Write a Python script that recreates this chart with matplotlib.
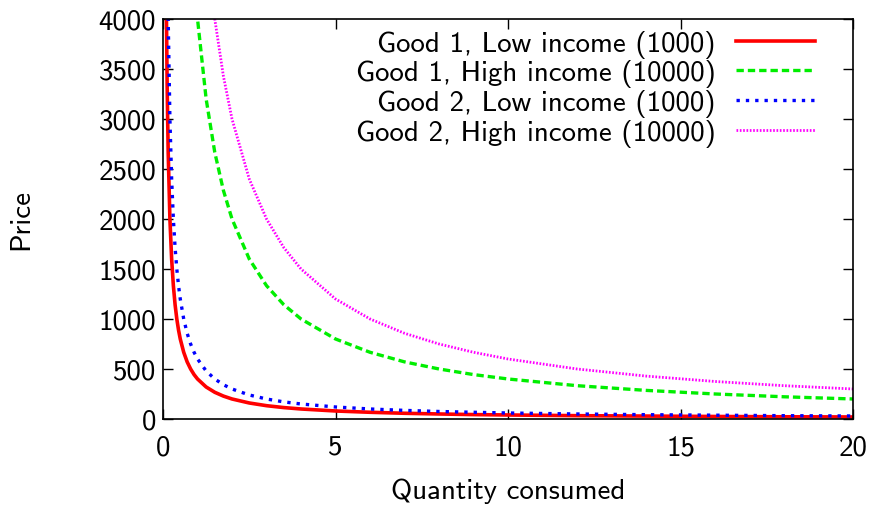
import matplotlib.pyplot as plt

# demand curves read at a set of quantities
quantity = [0.1, 0.12, 0.15, 0.2, 0.25, 0.3, 0.35, 0.4, 0.45, 0.5, 0.6, 0.7, 0.8, 0.9,
            1, 1.25, 1.5, 1.75, 2, 2.5, 3, 3.5, 4, 5, 6, 7, 8, 9, 10, 12, 14, 16, 18, 20]
good1_low = [4000, 3333, 2667, 2000, 1600, 1333, 1143, 1000, 889, 800, 667, 571, 500, 444,
             400, 320, 267, 229, 200, 160, 133, 114, 100, 80, 67, 57, 50, 44, 40, 33, 29, 25, 22, 20]
good1_high = [40000, 33333, 26667, 20000, 16000, 13333, 11429, 10000, 8889, 8000, 6667, 5714, 5000, 4444,
              4000, 3200, 2667, 2286, 2000, 1600, 1333, 1143, 1000, 800, 667, 571, 500, 444, 400, 333, 286, 250, 222, 200]
good2_low = [6000, 5000, 4000, 3000, 2400, 2000, 1714, 1500, 1333, 1200, 1000, 857, 750, 667,
             600, 480, 400, 343, 300, 240, 200, 171, 150, 120, 100, 86, 75, 67, 60, 50, 43, 38, 33, 30]
good2_high = [60000, 50000, 40000, 30000, 24000, 20000, 17143, 15000, 13333, 12000, 10000, 8571, 7500, 6667,
              6000, 4800, 4000, 3429, 3000, 2400, 2000, 1714, 1500, 1200, 1000, 857, 750, 667, 600, 500, 429, 375, 333, 300]

FS = 20.8
plt.rcParams['font.family'] = ['cmss10', 'DejaVu Sans']
plt.rcParams['axes.unicode_minus'] = False
plt.rcParams['font.size'] = FS

fig = plt.figure(figsize=(8.75, 5.06), dpi=100)
ax = fig.add_axes([0.1863, 0.17, 0.7886, 0.7905])

ax.plot(quantity, good1_low, color='#ff0000', lw=2.6, label='Good 1, Low income (1000)')
ax.plot(quantity, good1_high, color='#00ee00', lw=2.4, linestyle=(0, (2.2, 1.2)),
        label='Good 1, High income (10000)')
ax.plot(quantity, good2_low, color='#0000ff', lw=2.4, linestyle=(0, (1, 1.8)),
        label='Good 2, Low income (1000)')
ax.plot(quantity, good2_high, color='#ff00ff', lw=2.0, linestyle=(0, (0.6, 0.6)),
        label='Good 2, High income (10000)')

ax.set_xlim(0, 20)
ax.set_ylim(0, 4000)
ax.set_xticks([0, 5, 10, 15, 20])
ax.set_yticks(range(0, 4001, 500))
ax.tick_params(direction='in', top=True, right=True, length=7, width=1, labelsize=FS)
ax.tick_params(axis='x', pad=11)
ax.tick_params(axis='y', pad=5)
for s in ax.spines.values():
    s.set_linewidth(1.2)

ax.set_xlabel('Quantity consumed', fontsize=FS, labelpad=13)
ax.set_ylabel('Price', fontsize=FS, labelpad=47)

ax.legend(loc='upper right', frameon=False, markerfirst=False, handlelength=2.75,
          fontsize=FS, labelspacing=0.06, borderaxespad=0.0, handletextpad=0.7,
          borderpad=0.3, alignment='right', bbox_to_anchor=(0.958, 0.995))

fig.savefig('out.png', dpi=100)
